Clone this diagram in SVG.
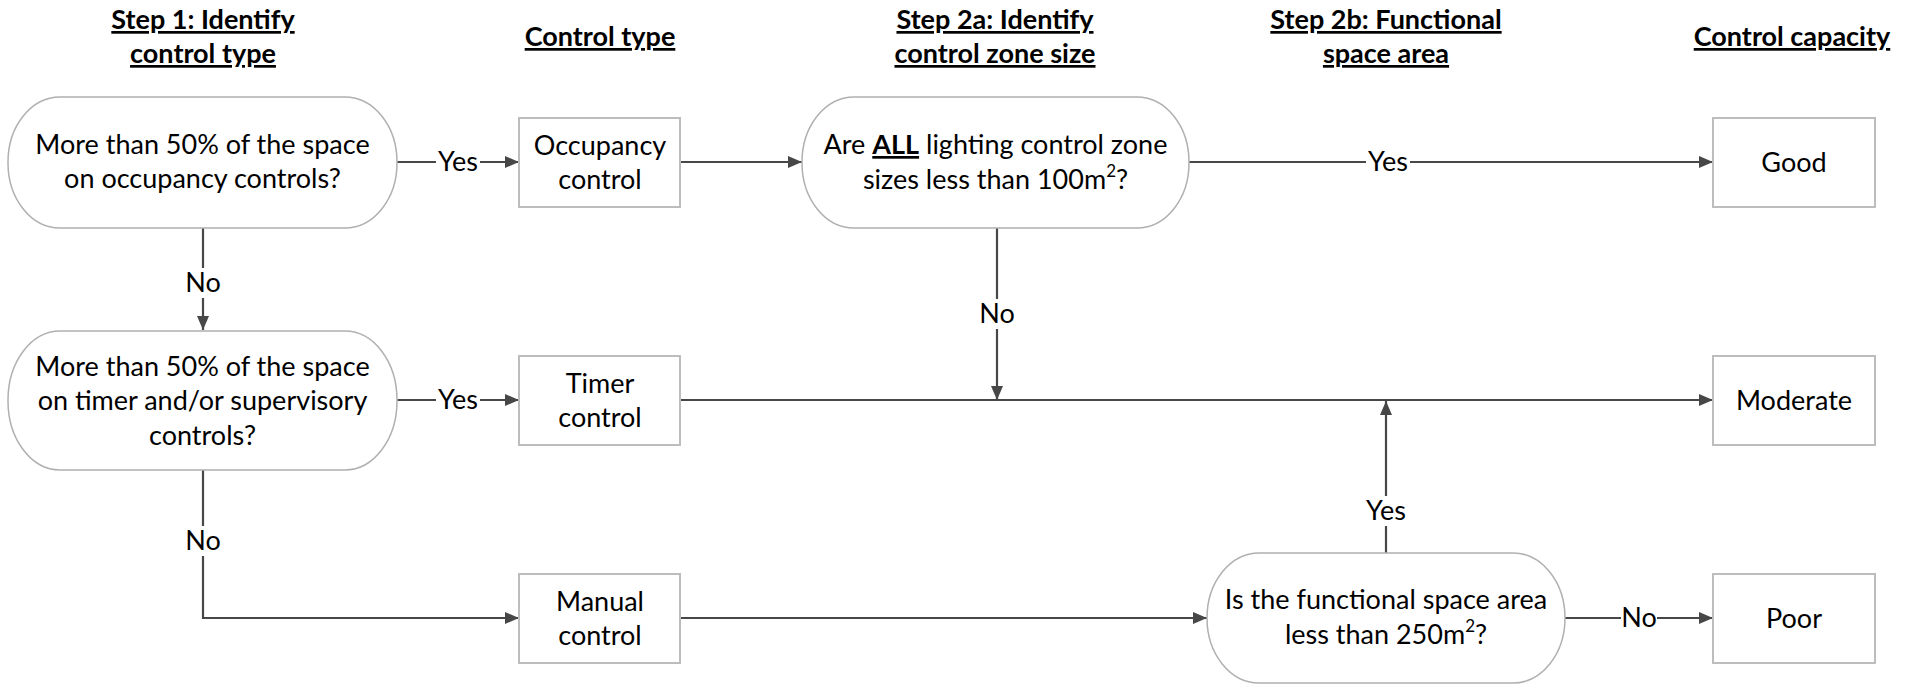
<svg xmlns="http://www.w3.org/2000/svg" width="1915" height="684" viewBox="0 0 1915 684">
<defs>
<style>
.t{font-family:Lato,"Liberation Sans",sans-serif;font-size:27px;fill:#000;text-anchor:middle}
.h{font-family:Lato,"Liberation Sans",sans-serif;font-size:27px;font-weight:bold;fill:#000;text-anchor:middle;text-decoration:underline}
.box{fill:#fff;stroke:#bdbdbd;stroke-width:2}
.dec{fill:#fff;stroke:#b0b0b0;stroke-width:1.5}
.ln{fill:none;stroke:#474747;stroke-width:2.2;marker-end:url(#ah)}
.ln0{fill:none;stroke:#474747;stroke-width:2.2}
.lb{fill:#fff}
</style>
<marker id="ah" markerUnits="userSpaceOnUse" markerWidth="14" markerHeight="12" refX="14" refY="6" orient="auto">
<path d="M0,0 L14,6 L0,12 z" fill="#474747"/>
</marker>
</defs>
<rect width="1915" height="684" fill="#fff"/>
<g id="titles">
<text class="h" x="203" y="29">Step 1: Identify</text>
<text class="h" x="203" y="63">control type</text>
<text class="h" x="600" y="46">Control type</text>
<text class="h" x="995" y="29">Step 2a: Identify</text>
<text class="h" x="995" y="63">control zone size</text>
<text class="h" x="1386" y="29">Step 2b: Functional</text>
<text class="h" x="1386" y="63">space area</text>
<text class="h" x="1792" y="46">Control capacity</text>
</g>
<g id="connectors">
<path class="ln" d="M397,162 H519"/>
<path class="ln" d="M680,162 H802"/>
<path class="ln" d="M1189,162 H1713"/>
<path class="ln" d="M203,228 V330"/>
<path class="ln" d="M997,228 V400"/>
<path class="ln" d="M397,400 H519"/>
<path class="ln" d="M680,400 H1713"/>
<path class="ln" d="M1386,553 V401"/>
<path class="ln" d="M203,470 V618 H519"/>
<path class="ln" d="M680,618 H1207"/>
<path class="ln" d="M1565,618 H1713"/>
<rect class="lb" x="436" y="148" width="44" height="28"/>
<text class="t" x="458" y="171">Yes</text>
<rect class="lb" x="1366" y="148" width="44" height="28"/>
<text class="t" x="1388" y="171">Yes</text>
<rect class="lb" x="185" y="268" width="36" height="30"/>
<text class="t" x="203" y="292">No</text>
<rect class="lb" x="979" y="299" width="36" height="30"/>
<text class="t" x="997" y="323">No</text>
<rect class="lb" x="436" y="386" width="44" height="28"/>
<text class="t" x="458" y="409">Yes</text>
<rect class="lb" x="1364" y="496" width="44" height="30"/>
<text class="t" x="1386" y="520">Yes</text>
<rect class="lb" x="185" y="526" width="36" height="30"/>
<text class="t" x="203" y="550">No</text>
<rect class="lb" x="1621" y="604" width="36" height="28"/>
<text class="t" x="1639" y="627">No</text>
</g>
<g id="d1">
<rect class="dec" x="8" y="97" width="389" height="131" rx="52" ry="65"/>
<text class="t" x="202.5" y="154">More than 50% of the space</text>
<text class="t" x="202.5" y="188">on occupancy controls?</text>
</g>
<g id="occupancy">
<rect class="box" x="519" y="118" width="161" height="89"/>
<text class="t" x="600" y="155">Occupancy</text>
<text class="t" x="600" y="189">control</text>
</g>
<g id="d2">
<rect class="dec" x="802" y="97" width="387" height="131" rx="52" ry="65"/>
<text class="t" x="995.5" y="154">Are <tspan font-weight="bold" text-decoration="underline">ALL</tspan> lighting control zone</text>
<text class="t" x="995.5" y="189">sizes less than 100m<tspan font-size="17" dy="-12">2</tspan><tspan dy="12">?</tspan></text>
</g>
<g id="good">
<rect class="box" x="1713" y="118" width="162" height="89"/>
<text class="t" x="1794" y="172">Good</text>
</g>
<g id="d3">
<rect class="dec" x="8" y="331" width="389" height="139" rx="52" ry="69"/>
<text class="t" x="202.5" y="376">More than 50% of the space</text>
<text class="t" x="202.5" y="410">on timer and/or supervisory</text>
<text class="t" x="202.5" y="445">controls?</text>
</g>
<g id="timer">
<rect class="box" x="519" y="356" width="161" height="89"/>
<text class="t" x="600" y="393">Timer</text>
<text class="t" x="600" y="427">control</text>
</g>
<g id="moderate">
<rect class="box" x="1713" y="356" width="162" height="89"/>
<text class="t" x="1794" y="410">Moderate</text>
</g>
<g id="manual">
<rect class="box" x="519" y="574" width="161" height="89"/>
<text class="t" x="600" y="611">Manual</text>
<text class="t" x="600" y="645">control</text>
</g>
<g id="d4">
<rect class="dec" x="1207" y="553" width="358" height="130" rx="52" ry="65"/>
<text class="t" x="1386" y="609">Is the functional space area</text>
<text class="t" x="1386" y="644">less than 250m<tspan font-size="17" dy="-12">2</tspan><tspan dy="12">?</tspan></text>
</g>
<g id="poor">
<rect class="box" x="1713" y="574" width="162" height="89"/>
<text class="t" x="1794" y="628">Poor</text>
</g>
</svg>
